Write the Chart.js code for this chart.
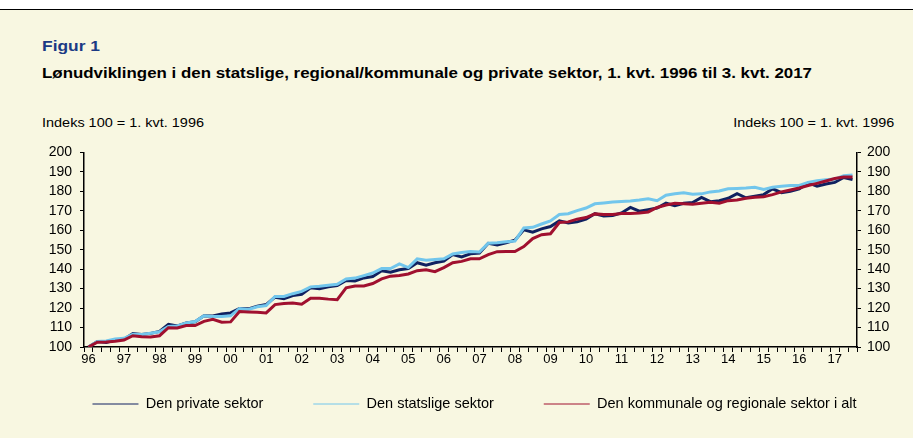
<!DOCTYPE html>
<html>
<head>
<meta charset="utf-8">
<script src="https://cdn.jsdelivr.net/npm/chart.js@4"></script>
<style>
  html, body { margin: 0; padding: 0; }
  body {
    width: 913px; height: 438px; overflow: hidden; position: relative;
    background: #f8f7e1; font-family: Arial, "Liberation Sans", sans-serif;
  }
  .top-strip { position: absolute; left: 0; top: 0; width: 913px; height: 9px; background: #fff; border-bottom: 1px solid #000; }
  .txt { position: absolute; line-height: 1; white-space: nowrap; transform-origin: left top; }
  .fig { left: 42px; top: 37.5px; font-size: 15px; font-weight: bold; color: #1b3a85; }
  .sub { left: 42px; top: 66px; font-size: 14.5px; font-weight: bold; color: #000; }
  .idx { top: 115.5px; font-size: 13.5px; color: #000; }
  .idx.left { left: 42px; }
  .idx.right { right: 19px; transform-origin: right top; }
  .wrap { position: absolute; left: 0; top: 136px; width: 949px; height: 302px; }
</style>
</head>
<body>
<div class="top-strip"></div>
<div class="txt fig" data-w="58">Figur 1</div>
<div class="txt sub" data-w="770">Lønudviklingen i den statslige, regional/kommunale og private sektor, 1. kvt. 1996 til 3. kvt. 2017</div>
<div class="txt idx left" data-w="162">Indeks 100 = 1. kvt. 1996</div>
<div class="txt idx right" data-w="161">Indeks 100 = 1. kvt. 1996</div>
<div class="wrap"><canvas id="lonChart"></canvas></div>
<script>
  // stretch the heading texts to the widths they have in the figure
  document.querySelectorAll(".txt").forEach((el) => {
    const w = el.getBoundingClientRect().width;
    el.style.transform = "scaleX(" + (Number(el.dataset.w) / w) + ")";
  });

  // quarters 1996K1 .. 2017K3
  const quarters = [];
  for (let y = 1996; y <= 2017; y++) {
    for (let q = 1; q <= 4; q++) {
      if (y === 2017 && q > 3) break;
      quarters.push(y + "K" + q);
    }
  }
  const yearLabels = ["96", "97", "98", "99", "00", "01", "02", "03", "04", "05", "06",
    "07", "08", "09", "10", "11", "12", "13", "14", "15", "16", "17"];

  const privateSector = [
    100, 102.8, 102.3, 103.6, 104.0, 106.9, 106.4, 107.0, 108.0, 111.6,
    110.8, 112.3, 113.0, 116.0, 115.9, 117.0, 117.5, 119.8, 119.6, 121.0,
    121.8, 125.6, 124.8, 126.4, 127.1, 130.4, 129.9, 131.0, 131.6, 134.2,
    133.9, 135.5, 136.2, 139.2, 138.4, 139.7, 140.3, 143.3, 142.0, 143.3,
    144.1, 147.5, 146.3, 147.9, 148.3, 153.3, 152.4, 153.6, 154.9, 160.2,
    159.0, 160.7, 161.9, 164.8, 163.7, 164.3, 165.7, 168.5, 167.3, 167.6,
    168.9, 171.7, 169.8, 170.6, 171.4, 173.9, 172.6, 173.9, 174.2, 176.9,
    174.7, 175.2, 176.4, 178.8, 176.7, 177.5, 178.3, 181.3, 179.3, 180.0,
    181.3, 184.3, 182.6, 183.8, 184.6, 187.1, 186.0
  ];
  const stateSector = [
    100, 102.8, 103.1, 104.1, 104.5, 106.6, 106.4, 107.1, 107.8, 110.6,
    110.8, 112.3, 113.1, 116.0, 115.7, 115.7, 116.0, 119.8, 119.3, 120.7,
    121.3, 126.0, 126.0, 127.4, 128.6, 130.9, 131.2, 131.7, 132.2, 135.0,
    135.4, 136.7, 138.0, 140.3, 140.3, 142.7, 140.8, 145.3, 144.6, 145.0,
    145.3, 147.8, 148.6, 149.1, 148.8, 153.3, 153.6, 154.1, 154.4, 161.2,
    161.5, 163.2, 164.8, 168.1, 168.5, 170.1, 171.4, 173.6, 174.0, 174.5,
    174.8, 175.0, 175.5, 176.2, 175.2, 178.0, 178.7, 179.2, 178.5, 178.7,
    179.7, 180.2, 181.3, 181.5, 181.7, 182.1, 181.0, 182.1, 182.6, 183.0,
    183.0, 184.6, 185.5, 186.0, 186.3, 188.0, 188.4
  ];
  const localSector = [
    100, 102.5, 102.6, 103.0, 103.6, 105.8, 105.3, 105.1, 105.8, 109.9,
    109.8, 111.0, 111.0, 113.2, 114.2, 112.7, 112.9, 118.2, 118.0, 117.9,
    117.5, 121.8, 122.3, 122.6, 122.0, 125.1, 125.1, 124.6, 124.3, 130.4,
    131.3, 131.4, 132.6, 135.0, 136.4, 136.7, 137.5, 139.2, 139.7, 138.7,
    140.8, 143.3, 144.0, 145.3, 145.3, 147.5, 149.0, 149.1, 149.1, 151.6,
    155.7, 157.7, 158.2, 164.0, 164.3, 165.7, 166.5, 168.4, 168.1, 168.1,
    168.6, 168.6, 168.9, 169.4, 171.7, 173.0, 173.9, 173.6, 173.4, 173.9,
    174.4, 173.9, 175.2, 175.5, 176.4, 177.0, 177.2, 178.3, 179.7, 180.7,
    181.7, 183.0, 184.1, 185.3, 186.6, 187.3, 187.3
  ];

  const family = "Arial, 'Liberation Sans', sans-serif";
  const noLine = "rgba(0,0,0,0)";

  new Chart(document.getElementById("lonChart"), {
    type: "line",
    data: {
      labels: quarters,
      datasets: [
        { label: "Den private sektor", data: privateSector, borderColor: "#102160", order: 2 },
        { label: "Den statslige sektor", data: stateSector, borderColor: "#72c6ec", order: 1 },
        { label: "Den kommunale og regionale sektor i alt", data: localSector, borderColor: "#a0102f", order: 0 },
      ],
    },
    options: {
      responsive: true,
      maintainAspectRatio: false,
      animation: false,
      layout: { padding: { top: 10, bottom: 16.75, left: 0, right: 0 } },
      elements: {
        line: { borderWidth: 3, tension: 0 },
        point: { radius: 0 },
      },
      scales: {
        x: {
          offset: true,
          afterFit: (s) => { s.height = 20; },
          border: { color: "#000", width: 1.5 },
          // only the short marks below the axis, no grid in the plot
          grid: { offset: true, color: noLine, tickLength: 5, tickWidth: 1, tickColor: "#000" },
          ticks: {
            autoSkip: false, maxRotation: 0, padding: 0.5, color: "#000",
            font: { family, size: 13, lineHeight: 1 },
            callback: (v, i) => (i % 4 === 0 ? yearLabels[i / 4] : ""),
          },
        },
        y: {
          position: "left",
          min: 100, max: 200,
          afterFit: (s) => { s.width = 84; },
          border: { color: "#000", width: 1.5 },
          grid: { color: noLine, tickLength: 4, tickWidth: 1, tickColor: "#000" },
          ticks: { stepSize: 10, autoSkip: false, padding: 8, color: "#000", font: { family, size: 14 } },
        },
        y2: {
          position: "right",
          min: 100, max: 200,
          afterFit: (s) => { s.width = 92; },
          border: { color: "#000", width: 1.5 },
          grid: { color: noLine, tickLength: 4, tickWidth: 1, tickColor: "#000" },
          ticks: { stepSize: 10, autoSkip: false, padding: 6, color: "#000", font: { family, size: 14 } },
        },
      },
      plugins: {
        legend: {
          position: "bottom",
          labels: {
            usePointStyle: true,
            pointStyle: "line",
            pointStyleWidth: 46,
            padding: 29.75,
            color: "#000",
            font: { family, size: 14.5 },
            sort: (a, b) => a.datasetIndex - b.datasetIndex,
            // extra room after the first two entries
            generateLabels: (chart) => {
              const items = Chart.defaults.plugins.legend.labels.generateLabels(chart);
              items.forEach((it) => {
                if (it.datasetIndex < 2) it.text += "     ";
              });
              return items;
            },
          },
        },
        tooltip: { enabled: false },
      },
    },
  });
</script>
</body>
</html>
